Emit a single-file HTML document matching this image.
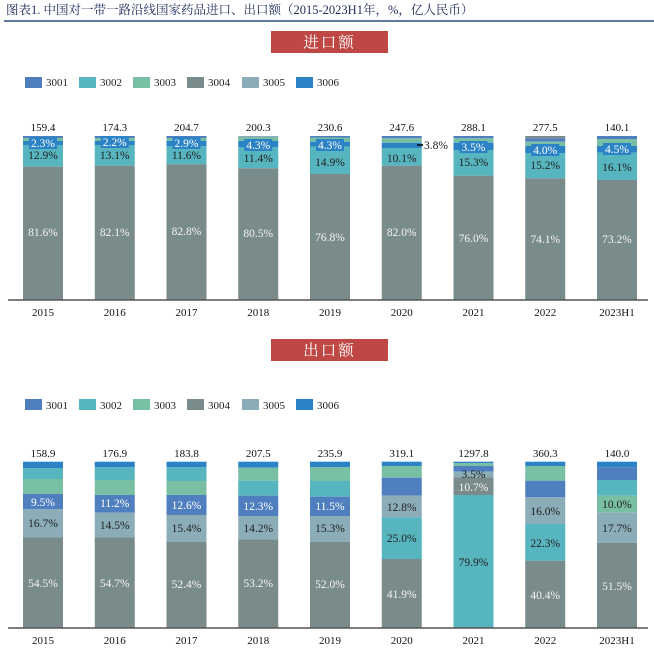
<!DOCTYPE html>
<html><head><meta charset="utf-8"><style>
html,body{margin:0;padding:0;background:#fff;}
svg{display:block;}
text{font-family:"Liberation Serif","Noto Serif CJK SC",serif;}
</style></head><body>
<svg width="654" height="649" viewBox="0 0 654 649" xmlns="http://www.w3.org/2000/svg">
<text x="6" y="14" font-size="12.5" fill="#1f2d5a">图表1. 中国对一带一路沿线国家药品进口、出口额（2015-2023H1年，%，亿人民币）</text>
<line x1="4" y1="21" x2="654" y2="21" stroke="#2f4a7a" stroke-width="1.5"/>

<rect x="271" y="31" width="117" height="22" fill="#bf4744"/>
<text x="329.5" y="47.5" font-size="15.5" fill="#fff" text-anchor="middle" letter-spacing="2">进口额</text>
<g font-size="11" fill="#222">
<rect x="25" y="77" width="17" height="11" fill="#4f7fbe"/><text x="46" y="86">3001</text>
<rect x="79" y="77" width="17" height="11" fill="#57b5c0"/><text x="100" y="86">3002</text>
<rect x="133" y="77" width="17" height="11" fill="#78bfa4"/><text x="154" y="86">3003</text>
<rect x="187" y="77" width="17" height="11" fill="#7a8b8b"/><text x="208" y="86">3004</text>
<rect x="242" y="77" width="17" height="11" fill="#8aadb8"/><text x="263" y="86">3005</text>
<rect x="296" y="77" width="17" height="11" fill="#2b83c6"/><text x="317" y="86">3006</text>
</g>

<g>
<rect x="23" y="136" width="40" height="2" fill="#4f7fbe"/><rect x="23" y="138" width="40" height="3" fill="#78bfa4"/><rect x="23" y="141" width="40" height="4" fill="#2b83c6"/><rect x="23" y="145" width="40" height="21.7" fill="#57b5c0"/><rect x="23" y="166.7" width="40" height="133.3" fill="#7a8b8b"/>
<rect x="94.75" y="136" width="40" height="2" fill="#4f7fbe"/><rect x="94.75" y="138" width="40" height="3" fill="#78bfa4"/><rect x="94.75" y="141" width="40" height="4" fill="#2b83c6"/><rect x="94.75" y="145" width="40" height="20.7" fill="#57b5c0"/><rect x="94.75" y="165.7" width="40" height="134.3" fill="#7a8b8b"/>
<rect x="166.5" y="136" width="40" height="2" fill="#4f7fbe"/><rect x="166.5" y="138" width="40" height="3" fill="#78bfa4"/><rect x="166.5" y="141" width="40" height="5" fill="#2b83c6"/><rect x="166.5" y="146" width="40" height="18.3" fill="#57b5c0"/><rect x="166.5" y="164.3" width="40" height="135.7" fill="#7a8b8b"/>
<rect x="238.25" y="136" width="40" height="1.5" fill="#8aadb8"/><rect x="238.25" y="137.5" width="40" height="3.5" fill="#78bfa4"/><rect x="238.25" y="141" width="40" height="6" fill="#2b83c6"/><rect x="238.25" y="147" width="40" height="21.3" fill="#57b5c0"/><rect x="238.25" y="168.3" width="40" height="131.7" fill="#7a8b8b"/>
<rect x="310" y="136" width="40" height="1.5" fill="#4f7fbe"/><rect x="310" y="137.5" width="40" height="4.2" fill="#78bfa4"/><rect x="310" y="141.7" width="40" height="5" fill="#2b83c6"/><rect x="310" y="146.7" width="40" height="27.3" fill="#57b5c0"/><rect x="310" y="174" width="40" height="126" fill="#7a8b8b"/>
<rect x="381.75" y="136" width="40" height="2.3" fill="#4f7fbe"/><rect x="381.75" y="138.3" width="40" height="4.4" fill="#78bfa4"/><rect x="381.75" y="142.7" width="40" height="5.3" fill="#2b83c6"/><rect x="381.75" y="148" width="40" height="17.7" fill="#57b5c0"/><rect x="381.75" y="165.7" width="40" height="134.3" fill="#7a8b8b"/>
<rect x="453.5" y="136" width="40" height="2.3" fill="#4f7fbe"/><rect x="453.5" y="138.3" width="40" height="4.4" fill="#78bfa4"/><rect x="453.5" y="142.7" width="40" height="7.3" fill="#2b83c6"/><rect x="453.5" y="150" width="40" height="25.7" fill="#57b5c0"/><rect x="453.5" y="175.7" width="40" height="124.3" fill="#7a8b8b"/>
<rect x="525.25" y="136" width="40" height="2.3" fill="#7a8b8b"/><rect x="525.25" y="138.3" width="40" height="3.4" fill="#4f7fbe"/><rect x="525.25" y="141.7" width="40" height="4.3" fill="#78bfa4"/><rect x="525.25" y="146" width="40" height="7" fill="#2b83c6"/><rect x="525.25" y="153" width="40" height="25.3" fill="#57b5c0"/><rect x="525.25" y="178.3" width="40" height="121.7" fill="#7a8b8b"/>
<rect x="597" y="136" width="40" height="3" fill="#4f7fbe"/><rect x="597" y="139" width="40" height="7" fill="#78bfa4"/><rect x="597" y="146" width="40" height="6.7" fill="#2b83c6"/><rect x="597" y="152.7" width="40" height="27.3" fill="#57b5c0"/><rect x="597" y="180" width="40" height="120" fill="#7a8b8b"/>
</g>
<g fill="#2b83c6">
<rect x="29" y="137" width="28" height="12"/><rect x="100.75" y="136" width="28" height="12"/><rect x="172.5" y="137" width="28" height="12"/><rect x="244.25" y="139" width="28" height="12"/><rect x="316" y="139" width="28" height="12"/><rect x="459.5" y="141" width="28" height="12"/><rect x="531.25" y="144" width="28" height="12"/><rect x="603" y="143" width="28" height="12"/>
</g>
<g font-size="11.5" text-anchor="middle" fill="#fff">
<text x="43" y="147">2.3%</text><text x="114.75" y="146">2.2%</text><text x="186.5" y="147">2.9%</text><text x="258.25" y="149">4.3%</text><text x="330" y="149">4.3%</text><text x="473.5" y="151">3.5%</text><text x="545.25" y="154">4.0%</text><text x="617" y="153">4.5%</text>
</g>
<line x1="417" y1="145" x2="423" y2="145" stroke="#000" stroke-width="1.5"/>
<text x="424" y="149" font-size="11.5" fill="#222">3.8%</text>
<g font-size="11.5" text-anchor="middle" fill="#222">
<text x="43" y="159">12.9%</text><text x="114.75" y="159">13.1%</text><text x="186.5" y="159">11.6%</text><text x="258.25" y="162">11.4%</text><text x="330" y="166">14.9%</text><text x="401.75" y="162">10.1%</text><text x="473.5" y="166">15.3%</text><text x="545.25" y="169">15.2%</text><text x="617" y="171">16.1%</text>
</g>
<g font-size="11.5" text-anchor="middle" fill="#f4f4ee">
<text x="43" y="236">81.6%</text><text x="114.75" y="236">82.1%</text><text x="186.5" y="235">82.8%</text><text x="258.25" y="237">80.5%</text><text x="330" y="241">76.8%</text><text x="401.75" y="236">82.0%</text><text x="473.5" y="242">76.0%</text><text x="545.25" y="243">74.1%</text><text x="617" y="243">73.2%</text>
</g>
<g font-size="11" text-anchor="middle" fill="#111">
<text x="43" y="131">159.4</text><text x="114.75" y="131">174.3</text><text x="186.5" y="131">204.7</text><text x="258.25" y="131">200.3</text><text x="330" y="131">230.6</text><text x="401.75" y="131">247.6</text><text x="473.5" y="131">288.1</text><text x="545.25" y="131">277.5</text><text x="617" y="131">140.1</text>
</g>
<line x1="8" y1="300" x2="648" y2="300" stroke="#555" stroke-width="1.5"/>
<g font-size="11" text-anchor="middle" fill="#111">
<text x="43" y="316">2015</text><text x="114.75" y="316">2016</text><text x="186.5" y="316">2017</text><text x="258.25" y="316">2018</text><text x="330" y="316">2019</text><text x="401.75" y="316">2020</text><text x="473.5" y="316">2021</text><text x="545.25" y="316">2022</text><text x="617" y="316">2023H1</text>
</g>

<rect x="271" y="339" width="117" height="22" fill="#bf4744"/>
<text x="329.5" y="355.5" font-size="15.5" fill="#fff" text-anchor="middle" letter-spacing="2">出口额</text>
<g font-size="11" fill="#222">
<rect x="25" y="399" width="17" height="11" fill="#4f7fbe"/><text x="46" y="409">3001</text>
<rect x="79" y="399" width="17" height="11" fill="#57b5c0"/><text x="100" y="409">3002</text>
<rect x="133" y="399" width="17" height="11" fill="#78bfa4"/><text x="154" y="409">3003</text>
<rect x="187" y="399" width="17" height="11" fill="#7a8b8b"/><text x="208" y="409">3004</text>
<rect x="242" y="399" width="17" height="11" fill="#8aadb8"/><text x="263" y="409">3005</text>
<rect x="296" y="399" width="17" height="11" fill="#2b83c6"/><text x="317" y="409">3006</text>
</g>

<g>
<rect x="23" y="461.7" width="40" height="6.6" fill="#2b83c6"/><rect x="23" y="468.3" width="40" height="10.7" fill="#57b5c0"/><rect x="23" y="479" width="40" height="15" fill="#78bfa4"/><rect x="23" y="494" width="40" height="15.3" fill="#4f7fbe"/><rect x="23" y="509.3" width="40" height="28" fill="#8aadb8"/><rect x="23" y="537.3" width="40" height="90.7" fill="#7a8b8b"/>
<rect x="94.75" y="461.7" width="40" height="5.6" fill="#2b83c6"/><rect x="94.75" y="467.3" width="40" height="12.7" fill="#57b5c0"/><rect x="94.75" y="480" width="40" height="15" fill="#78bfa4"/><rect x="94.75" y="495" width="40" height="17.7" fill="#4f7fbe"/><rect x="94.75" y="512.7" width="40" height="24.6" fill="#8aadb8"/><rect x="94.75" y="537.3" width="40" height="90.7" fill="#7a8b8b"/>
<rect x="166.5" y="461.7" width="40" height="5.6" fill="#2b83c6"/><rect x="166.5" y="467.3" width="40" height="13.7" fill="#57b5c0"/><rect x="166.5" y="481" width="40" height="14" fill="#78bfa4"/><rect x="166.5" y="495" width="40" height="20" fill="#4f7fbe"/><rect x="166.5" y="515" width="40" height="26.7" fill="#8aadb8"/><rect x="166.5" y="541.7" width="40" height="86.3" fill="#7a8b8b"/>
<rect x="238.25" y="461.7" width="40" height="6" fill="#2b83c6"/><rect x="238.25" y="467.7" width="40" height="13" fill="#78bfa4"/><rect x="238.25" y="480.7" width="40" height="15" fill="#57b5c0"/><rect x="238.25" y="495.7" width="40" height="20.3" fill="#4f7fbe"/><rect x="238.25" y="516" width="40" height="23.3" fill="#8aadb8"/><rect x="238.25" y="539.3" width="40" height="88.7" fill="#7a8b8b"/>
<rect x="310" y="461.7" width="40" height="5.6" fill="#2b83c6"/><rect x="310" y="467.3" width="40" height="13.7" fill="#78bfa4"/><rect x="310" y="481" width="40" height="15.7" fill="#57b5c0"/><rect x="310" y="496.7" width="40" height="19.3" fill="#4f7fbe"/><rect x="310" y="516" width="40" height="25.7" fill="#8aadb8"/><rect x="310" y="541.7" width="40" height="86.3" fill="#7a8b8b"/>
<rect x="381.75" y="461.7" width="40" height="4.3" fill="#2b83c6"/><rect x="381.75" y="466" width="40" height="11.7" fill="#78bfa4"/><rect x="381.75" y="477.7" width="40" height="18" fill="#4f7fbe"/><rect x="381.75" y="495.7" width="40" height="21.6" fill="#8aadb8"/><rect x="381.75" y="517.3" width="40" height="41.7" fill="#57b5c0"/><rect x="381.75" y="559" width="40" height="69" fill="#7a8b8b"/>
<rect x="453.5" y="461.7" width="40" height="1.6" fill="#2b83c6"/><rect x="453.5" y="463.3" width="40" height="2.7" fill="#78bfa4"/><rect x="453.5" y="466" width="40" height="5.7" fill="#4f7fbe"/><rect x="453.5" y="471.7" width="40" height="5.6" fill="#8aadb8"/><rect x="453.5" y="477.3" width="40" height="17.7" fill="#7a8b8b"/><rect x="453.5" y="495" width="40" height="133" fill="#57b5c0"/>
<rect x="525.25" y="461.7" width="40" height="4.3" fill="#2b83c6"/><rect x="525.25" y="466" width="40" height="14.7" fill="#78bfa4"/><rect x="525.25" y="480.7" width="40" height="16.6" fill="#4f7fbe"/><rect x="525.25" y="497.3" width="40" height="26.7" fill="#8aadb8"/><rect x="525.25" y="524" width="40" height="36.7" fill="#57b5c0"/><rect x="525.25" y="560.7" width="40" height="67.3" fill="#7a8b8b"/>
<rect x="597" y="461.7" width="40" height="5.6" fill="#2b83c6"/><rect x="597" y="467.3" width="40" height="12.7" fill="#4f7fbe"/><rect x="597" y="480" width="40" height="15.7" fill="#57b5c0"/><rect x="597" y="495.7" width="40" height="17" fill="#78bfa4"/><rect x="597" y="512.7" width="40" height="30" fill="#8aadb8"/><rect x="597" y="542.7" width="40" height="85.3" fill="#7a8b8b"/>
</g>
<g font-size="11.5" text-anchor="middle" fill="#fff">
<text x="43" y="506">9.5%</text><text x="114.75" y="507">11.2%</text><text x="186.5" y="509">12.6%</text><text x="258.25" y="510">12.3%</text><text x="330" y="510">11.5%</text>
</g>
<g font-size="11.5" text-anchor="middle" fill="#222">
<text x="43" y="527">16.7%</text><text x="114.75" y="529">14.5%</text><text x="186.5" y="532">15.4%</text><text x="258.25" y="532">14.2%</text><text x="330" y="532">15.3%</text>
<text x="401.75" y="511">12.8%</text><text x="401.75" y="542">25.0%</text>
<text x="473.5" y="478">3.5%</text><text x="473.5" y="566">79.9%</text>
<text x="545.25" y="515">16.0%</text><text x="545.25" y="547">22.3%</text>
<text x="617" y="508">10.0%</text><text x="617" y="532">17.7%</text>
</g>
<g font-size="11.5" text-anchor="middle" fill="#f4f4ee">
<text x="43" y="587">54.5%</text><text x="114.75" y="587">54.7%</text><text x="186.5" y="588">52.4%</text><text x="258.25" y="587">53.2%</text><text x="330" y="588">52.0%</text><text x="401.75" y="598">41.9%</text><text x="473.5" y="491">10.7%</text><text x="545.25" y="599">40.4%</text><text x="617" y="590">51.5%</text>
</g>
<g font-size="11" text-anchor="middle" fill="#111">
<text x="43" y="457">158.9</text><text x="114.75" y="457">176.9</text><text x="186.5" y="457">183.8</text><text x="258.25" y="457">207.5</text><text x="330" y="457">235.9</text><text x="401.75" y="457">319.1</text><text x="473.5" y="457">1297.8</text><text x="545.25" y="457">360.3</text><text x="617" y="457">140.0</text>
</g>
<line x1="8" y1="628" x2="648" y2="628" stroke="#555" stroke-width="1.5"/>
<g font-size="11" text-anchor="middle" fill="#111">
<text x="43" y="644">2015</text><text x="114.75" y="644">2016</text><text x="186.5" y="644">2017</text><text x="258.25" y="644">2018</text><text x="330" y="644">2019</text><text x="401.75" y="644">2020</text><text x="473.5" y="644">2021</text><text x="545.25" y="644">2022</text><text x="617" y="644">2023H1</text>
</g>
</svg>
</body></html>
